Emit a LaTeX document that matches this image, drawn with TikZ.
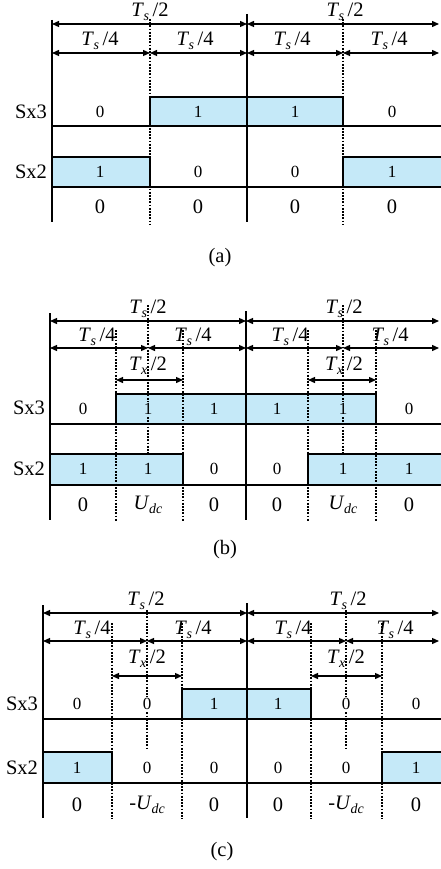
\documentclass[tikz,border=0pt]{standalone}
\usepackage{fontspec}
\setmainfont{Liberation Serif}
\usetikzlibrary{arrows.meta}
\definecolor{boxblue}{RGB}{197,233,248}
\newcommand{\Tfrac}[3]{\textit{#1}\kern-0.5pt\raisebox{-0.45ex}{\fontsize{14}{14}\selectfont\textit{#2}}\kern3.5pt/#3}
\newcommand{\Udc}{\textit{U}\kern-0.5pt\raisebox{-0.45ex}{\fontsize{14}{14}\selectfont\textit{dc}}}
\tikzset{
  dim/.style={line width=1.3pt,{Triangle[length=7pt,width=6pt]}-{Triangle[length=7pt,width=6pt]}},
  rowline/.style={line width=2.4pt},
  vline/.style={line width=1.7pt},
  dotline/.style={line width=1.2pt,dash pattern=on 1.8pt off 1.4pt},
  onbox/.style={draw,line width=1.6pt,fill=boxblue},
  dimlbl/.style={font=\fontsize{20.5}{22}\selectfont,inner sep=0pt},
  bitw/.style={font=\fontsize{17}{19}\selectfont,inner sep=1pt,fill=white},
  bitb/.style={font=\fontsize{17}{19}\selectfont,inner sep=1pt,fill=boxblue},
  outv/.style={font=\fontsize{20.5}{22}\selectfont,inner sep=1pt},
  sxlbl/.style={font=\fontsize{20.5}{22}\selectfont,inner sep=0pt},
  captxt/.style={font=\fontsize{20.5}{22}\selectfont,inner sep=0pt}
}
\begin{document}
\begin{tikzpicture}[x=1pt,y=-1pt]
\useasboundingbox (0,0) rectangle (440,869);
% ================= panel (a) =================
\path[onbox] (150,97) rectangle (343,126);
\path[onbox] (52,157) rectangle (150,187);
\path[onbox] (343,157) rectangle (443,187);
\draw[rowline] (52,126) -- (442,126);
\draw[rowline] (52,187) -- (442,187);
\draw[vline] (52,20) -- (52,222);
\draw[vline] (247,14) -- (247,222);
\draw[dotline] (150,19) -- (150,225);
\draw[dotline] (343,19) -- (343,225);
\draw[dim] (52,24) -- (247,24);
\draw[dim] (247,24) -- (439,24);
\draw[dim] (52,53) -- (150,53);
\draw[dim] (150,53) -- (247,53);
\draw[dim] (247,53) -- (343,53);
\draw[dim] (343,53) -- (439,53);
\node[dimlbl] (a-h1) at (150,12) {\Tfrac{T}{s}{2}};
\node[dimlbl] (a-h2) at (345,12) {\Tfrac{T}{s}{2}};
\node[dimlbl] (a-q1) at (100,41) {\Tfrac{T}{s}{4}};
\node[dimlbl] (a-q2) at (195,41) {\Tfrac{T}{s}{4}};
\node[dimlbl] (a-q3) at (292,41) {\Tfrac{T}{s}{4}};
\node[dimlbl] (a-q4) at (389,41) {\Tfrac{T}{s}{4}};
\node[sxlbl] (a-sx3) at (31,112) {Sx3};
\node[sxlbl] (a-sx2) at (31,172) {Sx2};
\node[bitw] (a-31) at (100,112) {0};
\node[bitb] (a-32) at (198,112) {1};
\node[bitb] (a-33) at (295,112) {1};
\node[bitw] (a-34) at (392,112) {0};
\node[bitb] (a-21) at (100,172) {1};
\node[bitw] (a-22) at (198,172) {0};
\node[bitw] (a-23) at (295,172) {0};
\node[bitb] (a-24) at (392,172) {1};
\node[outv] (a-o1) at (100,207) {0};
\node[outv] (a-o2) at (198,207) {0};
\node[outv] (a-o3) at (295,207) {0};
\node[outv] (a-o4) at (392,207) {0};
\node[captxt] (a-cap) at (220,258) {(a)};
% ================= panel (b) =================
\path[onbox] (116,394) rectangle (376,424);
\path[onbox] (50,454) rectangle (183,485);
\path[onbox] (308,454) rectangle (443,485);
\draw[rowline] (50,424) -- (442,424);
\draw[rowline] (50,485) -- (442,485);
\draw[vline] (50,313) -- (50,520);
\draw[vline] (246,311) -- (246,520);
\draw[dotline] (148,305) -- (148,454);
\draw[dotline] (343,305) -- (343,454);
\draw[dotline] (116,330) -- (116,521);
\draw[dotline] (183,330) -- (183,521);
\draw[dotline] (308,330) -- (308,521);
\draw[dotline] (376,330) -- (376,521);
\draw[dim] (50,321) -- (246,321);
\draw[dim] (246,321) -- (439,321);
\draw[dim] (50,348) -- (148,348);
\draw[dim] (148,348) -- (246,348);
\draw[dim] (246,348) -- (343,348);
\draw[dim] (343,348) -- (439,348);
\draw[dim] (116,380) -- (183,380);
\draw[dim] (308,380) -- (376,380);
\node[dimlbl] (b-h1) at (148,309) {\Tfrac{T}{s}{2}};
\node[dimlbl] (b-h2) at (344,309) {\Tfrac{T}{s}{2}};
\node[dimlbl] (b-q1) at (97,337) {\Tfrac{T}{s}{4}};
\node[dimlbl] (b-q2) at (193,337) {\Tfrac{T}{s}{4}};
\node[dimlbl] (b-q3) at (290,337) {\Tfrac{T}{s}{4}};
\node[dimlbl] (b-q4) at (390,337) {\Tfrac{T}{s}{4}};
\node[dimlbl] (b-x1) at (148,366) {\Tfrac{T}{x}{2}};
\node[dimlbl] (b-x2) at (344,366) {\Tfrac{T}{x}{2}};
\node[sxlbl] (b-sx3) at (29,408) {Sx3};
\node[sxlbl] (b-sx2) at (29,469) {Sx2};
\node[bitw] (b-31) at (83,409) {0};
\node[bitb] (b-32) at (148,409) {1};
\node[bitb] (b-33) at (214,409) {1};
\node[bitb] (b-34) at (277,409) {1};
\node[bitb] (b-35) at (343,409) {1};
\node[bitw] (b-36) at (409,409) {0};
\node[bitb] (b-21) at (83,469) {1};
\node[bitb] (b-22) at (148,469) {1};
\node[bitw] (b-23) at (214,469) {0};
\node[bitw] (b-24) at (277,469) {0};
\node[bitb] (b-25) at (343,469) {1};
\node[bitb] (b-26) at (409,469) {1};
\node[outv] (b-o1) at (83,505) {0};
\node[outv] (b-o2) at (148,505) {\Udc};
\node[outv] (b-o3) at (214,505) {0};
\node[outv] (b-o4) at (277,505) {0};
\node[outv] (b-o5) at (343,505) {\Udc};
\node[outv] (b-o6) at (409,505) {0};
\node[captxt] (b-cap) at (225,550) {(b)};
% ================= panel (c) =================
\path[onbox] (182,689) rectangle (311,719);
\path[onbox] (43,752) rectangle (112,783);
\path[onbox] (382,752) rectangle (443,783);
\draw[rowline] (43,719) -- (442,719);
\draw[rowline] (43,783) -- (442,783);
\draw[vline] (43,605) -- (43,818);
\draw[vline] (247,603) -- (247,818);
\draw[dotline] (147,610) -- (147,749);
\draw[dotline] (346,610) -- (346,749);
\draw[dotline] (112,623) -- (112,819);
\draw[dotline] (182,623) -- (182,819);
\draw[dotline] (311,623) -- (311,819);
\draw[dotline] (382,623) -- (382,819);
\draw[dim] (43,613) -- (247,613);
\draw[dim] (247,613) -- (439,613);
\draw[dim] (43,641) -- (147,641);
\draw[dim] (147,641) -- (247,641);
\draw[dim] (247,641) -- (346,641);
\draw[dim] (346,641) -- (439,641);
\draw[dim] (112,676) -- (182,676);
\draw[dim] (311,676) -- (382,676);
\node[dimlbl] (c-h1) at (146,601) {\Tfrac{T}{s}{2}};
\node[dimlbl] (c-h2) at (348,601) {\Tfrac{T}{s}{2}};
\node[dimlbl] (c-q1) at (92,630) {\Tfrac{T}{s}{4}};
\node[dimlbl] (c-q2) at (193,630) {\Tfrac{T}{s}{4}};
\node[dimlbl] (c-q3) at (293,630) {\Tfrac{T}{s}{4}};
\node[dimlbl] (c-q4) at (395,630) {\Tfrac{T}{s}{4}};
\node[dimlbl] (c-x1) at (147,659) {\Tfrac{T}{x}{2}};
\node[dimlbl] (c-x2) at (346,659) {\Tfrac{T}{x}{2}};
\node[sxlbl] (c-sx3) at (22,704) {Sx3};
\node[sxlbl] (c-sx2) at (22,768) {Sx2};
\node[bitw] (c-31) at (77,704) {0};
\node[bitw] (c-32) at (147,704) {0};
\node[bitb] (c-33) at (214,704) {1};
\node[bitb] (c-34) at (278,704) {1};
\node[bitw] (c-35) at (346,704) {0};
\node[bitw] (c-36) at (416,704) {0};
\node[bitb] (c-21) at (77,768) {1};
\node[bitw] (c-22) at (147,768) {0};
\node[bitw] (c-23) at (214,768) {0};
\node[bitw] (c-24) at (278,768) {0};
\node[bitw] (c-25) at (346,768) {0};
\node[bitb] (c-26) at (416,768) {1};
\node[outv] (c-o1) at (77,805) {0};
\node[outv] (c-o2) at (147,805) {-\Udc};
\node[outv] (c-o3) at (214,805) {0};
\node[outv] (c-o4) at (278,805) {0};
\node[outv] (c-o5) at (346,805) {-\Udc};
\node[outv] (c-o6) at (416,805) {0};
\node[captxt] (c-cap) at (222,852) {(c)};
\end{tikzpicture}
\end{document}
